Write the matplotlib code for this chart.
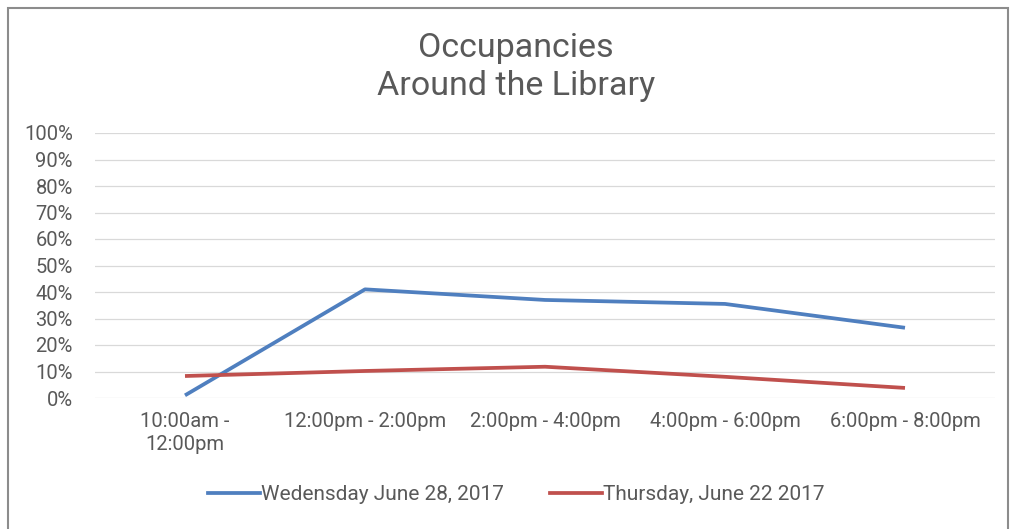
import matplotlib.pyplot as plt
from matplotlib.lines import Line2D

plt.rcParams['font.family'] = ['Roboto', 'DejaVu Sans']

# time slots (x axis)
slots = ["10:00am -\n12:00pm", "12:00pm - 2:00pm", "2:00pm - 4:00pm",
         "4:00pm - 6:00pm", "6:00pm - 8:00pm"]
# occupancy in percent
wednesday = [1, 41, 37, 35.5, 26.5]
thursday = [8.3, 10.2, 11.8, 8, 3.8]

series_names = ["Wedensday June 28, 2017", "Thursday, June 22 2017"]
blue = "#4F7FBF"
red = "#C0504D"
gray = "#595959"

W, H = 1011, 529
fig = plt.figure(figsize=(W / 100, H / 100), dpi=100)

# outer frame of the chart
frame = plt.Rectangle((8 / W, -0.01), (1008 - 8) / W, 1 - 8 / H + 0.01,
                      transform=fig.transFigure, fill=False,
                      edgecolor="#8C8C8C", linewidth=1.5)
fig.patches.append(frame)

ax = fig.add_axes([95 / W, 1 - 398 / H, 900 / W, 265 / H])
x = list(range(len(slots)))
ax.plot(x, wednesday, color=blue, linewidth=2.7, solid_capstyle="butt")
ax.plot(x, thursday, color=red, linewidth=2.7, solid_capstyle="butt")

ax.set_xlim(-0.5, len(slots) - 0.5)
ax.set_ylim(0, 100)
ax.set_yticks(range(0, 101, 10))
ax.set_yticklabels([f"{v}%" for v in range(0, 101, 10)])
ax.set_xticks(x)
ax.set_xticklabels(slots, linespacing=1.25)
ax.grid(axis="y", color="#D9D9D9", linewidth=0.9)
ax.set_axisbelow(True)
for s in ax.spines.values():
    s.set_visible(False)
ax.tick_params(length=0, labelsize=14.5, labelcolor=gray)
ax.tick_params(axis="y", pad=16)
ax.tick_params(axis="x", pad=10)

fig.text(516 / W, 1 - 67 / H, "Occupancies\nAround the Library", ha="center",
         va="center", fontsize=24.5, color=gray, linespacing=1.25)

handles = [Line2D([], [], color=blue, linewidth=2.7),
           Line2D([], [], color=red, linewidth=2.7)]
fig.legend(handles, series_names, loc="center", ncol=2,
           bbox_to_anchor=(516 / W, 1 - 495 / H), frameon=False,
           fontsize=15, labelcolor=gray, handlelength=2.5,
           handletextpad=0.05, columnspacing=2.2)

fig.savefig("out.png", dpi=100)
